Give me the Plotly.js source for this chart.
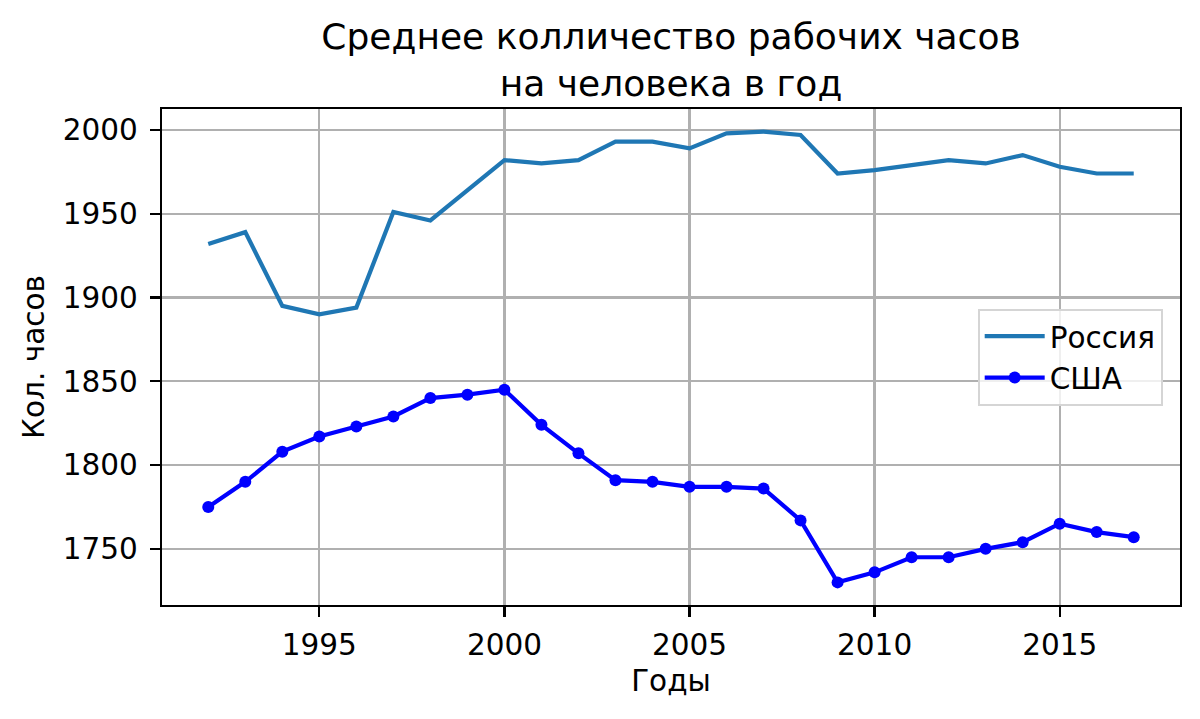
<!DOCTYPE html>
<html>
<head>
<meta charset="utf-8">
<script src="https://cdn.plot.ly/plotly-3.0.1.min.js"></script>
<style>
  html, body { margin: 0; padding: 0; background: #ffffff; }
  #chart { width: 1200px; height: 719px; }
</style>
</head>
<body>
<div id="chart"></div>
<script>
// years on the x axis
var years = [1992, 1993, 1994, 1995, 1996, 1997, 1998, 1999, 2000, 2001, 2002, 2003, 2004,
             2005, 2006, 2007, 2008, 2009, 2010, 2011, 2012, 2013, 2014, 2015, 2016, 2017];

// hours per person per year
var russia = [1932, 1939, 1895, 1890, 1894, 1951, 1946, 1964, 1982, 1980, 1982, 1993, 1993,
              1989, 1998, 1999, 1997, 1974, 1976, 1979, 1982, 1980, 1985, 1978, 1974, 1974];
var usa = [1775, 1790, 1808, 1817, 1823, 1829, 1840, 1842, 1845, 1824, 1807, 1791, 1790,
           1787, 1787, 1786, 1767, 1730, 1736, 1745, 1745, 1750, 1754, 1765, 1760, 1757];

var titleText = "Среднее колличество рабочих часов<br>на человека в год";
var xTitle = "Годы";
var yTitle = "Кол. часов";

var fontFamily = "DejaVu Sans, sans-serif";
var fs = 29.5; // 10pt at the picture's dpi

var traces = [
	{
		type: "scatter",
		mode: "lines",
		name: "Россия",
		x: years,
		y: russia,
		line: { color: "#1f77b4", width: 4.2 }
	},
	{
		type: "scatter",
		mode: "lines+markers",
		name: "США",
		x: years,
		y: usa,
		line: { color: "#0000ff", width: 4.2 },
		marker: { color: "#0000ff", size: 12 }
	}
];

var layout = {
	width: 1200,
	height: 719,
	paper_bgcolor: "#ffffff",
	plot_bgcolor: "#ffffff",
	font: { family: fontFamily, size: fs, color: "#000000" },
	margin: { l: 162, r: 20, t: 109, b: 114 },
	title: {
		text: titleText,
		font: { family: fontFamily, size: 36, color: "#000000" },
		x: 0.5,
		xref: "paper",
		y: 0.932,
		yref: "container",
		yanchor: "top"
	},
	xaxis: {
		title: { text: xTitle, font: { size: fs }, standoff: 10 },
		range: [1990.75, 2018.25],
		tick0: 1995,
		dtick: 5,
		ticks: "outside",
		ticklen: 10,
		tickwidth: 2.2,
		tickcolor: "#000000",
		ticklabelstandoff: 2,
		tickfont: { size: fs },
		showgrid: true,
		gridcolor: "#b0b0b0",
		gridwidth: 2.2,
		zeroline: false,
		showline: true,
		linecolor: "#000000",
		linewidth: 2.2,
		mirror: true
	},
	yaxis: {
		title: { text: yTitle, font: { size: fs }, standoff: 10 },
		range: [1716.5, 2012.5],
		tick0: 1750,
		dtick: 50,
		ticks: "outside",
		ticklen: 10,
		tickwidth: 2.2,
		tickcolor: "#000000",
		ticklabelstandoff: 6,
		tickfont: { size: fs },
		showgrid: true,
		gridcolor: "#b0b0b0",
		gridwidth: 2.2,
		zeroline: false,
		showline: true,
		linecolor: "#000000",
		linewidth: 2.2,
		mirror: true
	},
	showlegend: true,
	legend: {
		x: 0.983,
		y: 0.5,
		xanchor: "right",
		yanchor: "middle",
		bgcolor: "rgba(255,255,255,0.8)",
		bordercolor: "#d5d5d5",
		borderwidth: 2,
		font: { family: fontFamily, size: fs },
		itemwidth: 60,
		tracegroupgap: 4
	}
};

var config = { displayModeBar: false, staticPlot: true };

Plotly.newPlot("chart", traces, layout, config);
</script>
</body>
</html>
